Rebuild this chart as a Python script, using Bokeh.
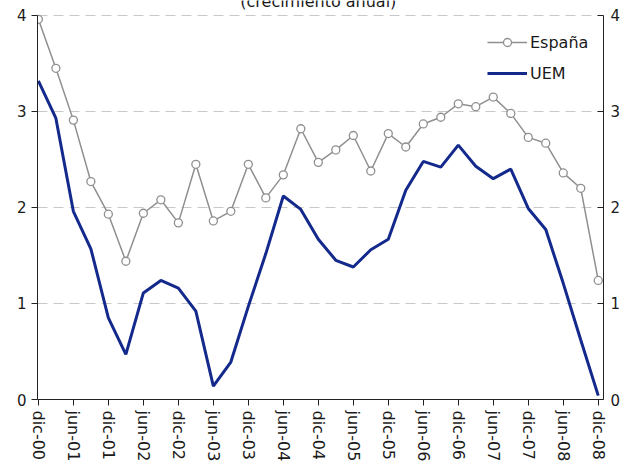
import numpy as np
from bokeh.plotting import figure
from bokeh.models import (Range1d, LinearAxis, FixedTicker, Legend, LegendItem, Label)
from bokeh.embed import file_html
from bokeh.resources import INLINE

# quarterly periods dic-00 .. dic-08
quarters = list(range(33))
tick_labels = ["dic-00", "jun-01", "dic-01", "jun-02", "dic-02", "jun-03", "dic-03", "jun-04",
               "dic-04", "jun-05", "dic-05", "jun-06", "dic-06", "jun-07", "dic-07", "jun-08", "dic-08"]

espana = [3.96, 3.45, 2.91, 2.27, 1.93, 1.44, 1.94, 2.08, 1.84, 2.45, 1.86, 1.96, 2.45, 2.10,
          2.34, 2.82, 2.47, 2.60, 2.75, 2.38, 2.77, 2.63, 2.87, 2.94, 3.08, 3.05, 3.15, 2.98,
          2.73, 2.67, 2.36, 2.20, 1.24]
uem = [3.32, 2.93, 1.96, 1.57, 0.85, 0.47, 1.11, 1.24, 1.16, 0.92, 0.14, 0.39, 0.97, 1.52,
       2.12, 1.98, 1.67, 1.45, 1.38, 1.56, 1.67, 2.18, 2.48, 2.42, 2.65, 2.43, 2.30, 2.40,
       1.99, 1.77, 1.21, 0.62, 0.04]
y_ticks = [0, 1, 2, 3, 4]

FONT = "DejaVu Sans"
TXT = "#1a1a1a"

p = figure(width=626, height=468, output_backend="svg", toolbar_location=None,
           x_range=Range1d(-0.05, 32.3), y_range=Range1d(0, 4.156),
           min_border_left=37, min_border_right=23, min_border_top=0, min_border_bottom=69)
p.outline_line_color = None
p.background_fill_color = "white"
p.border_fill_color = "white"

# grid
p.xgrid.grid_line_color = None
p.ygrid.grid_line_color = "#c8c8c8"
p.ygrid.grid_line_dash = "10 6"
p.ygrid.grid_line_width = 1
p.ygrid.ticker = FixedTicker(ticks=y_ticks[1:])

# x axis
tick_pos = list(range(0, 33, 2))
xa = p.xaxis[0]
xa.ticker = FixedTicker(ticks=tick_pos)
xa.major_label_overrides = {t: l for t, l in zip(tick_pos, tick_labels)}
xa.major_label_orientation = "vertical"
xa.major_label_text_font = FONT
xa.major_label_text_font_size = "16px"
xa.major_label_text_color = TXT
xa.major_tick_out = 6
xa.major_tick_in = 0
xa.minor_tick_line_color = None
xa.axis_line_color = "#222222"
xa.major_tick_line_color = "#222222"
xa.major_label_standoff = 5

# left y axis
ya = p.yaxis[0]
ya.ticker = FixedTicker(ticks=y_ticks)
ya.bounds = (0, 4)
ya.major_label_text_font = FONT
ya.major_label_text_font_size = "15px"
ya.major_label_text_color = TXT
ya.major_tick_out = 6
ya.major_tick_in = 0
ya.minor_tick_line_color = None
ya.axis_line_color = "#222222"
ya.major_tick_line_color = "#222222"
ya.major_label_standoff = 5

# right y axis
ra = LinearAxis(ticker=FixedTicker(ticks=y_ticks), bounds=(0, 4))
ra.major_label_text_font = FONT
ra.major_label_text_font_size = "15px"
ra.major_label_text_color = TXT
ra.major_tick_out = 0
ra.major_tick_in = 6
ra.minor_tick_line_color = None
ra.axis_line_color = "#222222"
ra.major_tick_line_color = "#222222"
ra.major_label_standoff = 7
p.add_layout(ra, "right")

# series
es_line = p.line(quarters, espana, line_color="#8f8f8f", line_width=1.5)
es_pts = p.scatter(quarters, espana, marker="circle", size=8, line_color="#8f8f8f",
                   fill_color="white", line_width=1.3)
uem_line = p.line(quarters, uem, line_color="#14298c", line_width=3)

legend = Legend(items=[LegendItem(label="España", renderers=[es_line, es_pts]),
                       LegendItem(label="UEM", renderers=[uem_line])],
                location=(450, 316))
legend.background_fill_alpha = 0
legend.border_line_color = None
legend.label_text_font = FONT
legend.label_text_font_size = "16px"
legend.label_text_color = TXT
legend.glyph_width = 40
legend.glyph_height = 20
legend.label_height = 20
legend.spacing = 11
legend.margin = 0
legend.padding = 10
legend.label_standoff = 3
p.add_layout(legend)

# partially visible subtitle (cut off at the top, as in the source)
p.add_layout(Label(x=16, y=4.15, text="(crecimiento anual)", text_align="center",
                   text_baseline="alphabetic", text_font=FONT, text_font_size="16px",
                   text_color=TXT))

open("out.html", "w").write(file_html(p, INLINE))
